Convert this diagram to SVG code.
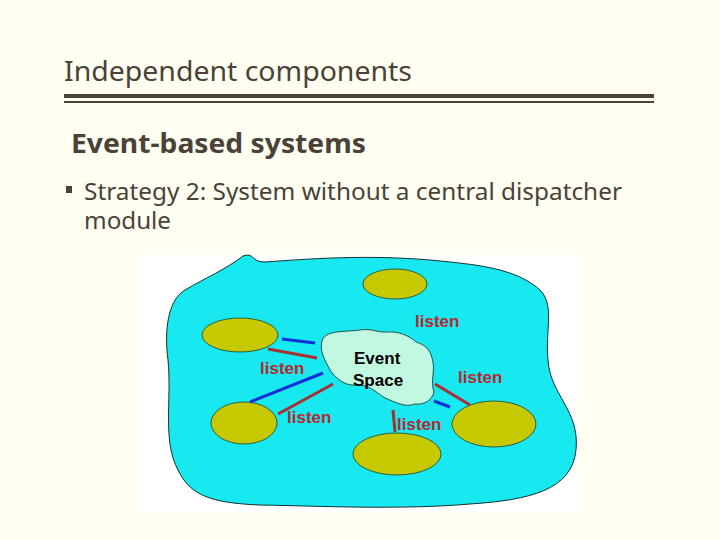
<svg xmlns="http://www.w3.org/2000/svg" width="720" height="540" viewBox="0 0 720 540">
<style>
.t{font-family:"Noto Sans","Open Sans",sans-serif;fill:#4a4238}
.l{font-family:"Liberation Sans",Arial,sans-serif;font-weight:bold;font-size:17px;fill:#b5282d}
.comp{fill:#c6c800;stroke:#2a6040;stroke-width:1}
.blue{stroke:#1030d8;stroke-width:3}
.red{stroke:#a83030;stroke-width:3}
</style>
<rect width="720" height="540" fill="#fffff2"/>
<text class="t" x="64" y="81" font-size="27" textLength="348" lengthAdjust="spacingAndGlyphs">Independent components</text>
<rect x="64" y="94" width="590" height="4" fill="#4a4238"/>
<rect x="64" y="101" width="590" height="2" fill="#4a4238"/>
<text class="t" x="71" y="153" font-size="27" font-weight="bold" textLength="295" lengthAdjust="spacingAndGlyphs">Event-based systems</text>
<rect x="66" y="186" width="6" height="7" fill="#4a4238"/>
<text class="t" x="84" y="200" font-size="23" textLength="538" lengthAdjust="spacingAndGlyphs">Strategy 2: System without a central dispatcher</text>
<text class="t" x="84" y="229" font-size="23" textLength="87" lengthAdjust="spacingAndGlyphs">module</text>
<rect x="140" y="255" width="438" height="257" fill="#ffffff"/>
<g id="background">
<path d="M243,256 C255,252 250,262 265,262 C320,258 380,254 450,262 C490,266 520,272 540,290 C555,305 545,330 548,360 C550,395 580,410 576,450 C572,490 530,500 470,504 C400,510 320,506 260,505 C210,503 190,495 178,470 C162,440 172,400 168,360 C164,330 168,300 185,290 C205,278 225,270 243,256 Z" fill="#18e8f0" stroke="#103030" stroke-width="1"/>
</g>
<g id="event-space">
<path d="M323,338 C330,330 345,332 360,330 C372,328 378,333 388,332 C398,331 410,336 416,342 C426,345 430,350 432,358 C436,370 430,380 434,392 C432,400 425,405 415,404 C405,408 395,402 385,398 C375,392 370,384 355,385 C345,386 335,378 330,370 C325,360 318,350 323,338 Z" fill="#c0f8e0" stroke="#205050" stroke-width="1"/>
<text x="354" y="364" font-family="Liberation Sans,Arial,sans-serif" font-weight="bold" font-size="17" fill="#000">Event</text>
<text x="353" y="386" font-family="Liberation Sans,Arial,sans-serif" font-weight="bold" font-size="17" fill="#000">Space</text>
</g>
<g id="c-top"><ellipse class="comp" cx="395" cy="284" rx="32" ry="15"/></g>
<g id="c-left-top"><ellipse class="comp" cx="240" cy="335" rx="38" ry="17"/></g>
<g id="c-left-bottom"><ellipse class="comp" cx="244" cy="423" rx="33" ry="21"/></g>
<g id="c-bottom"><ellipse class="comp" cx="397" cy="454" rx="44" ry="21"/></g>
<g id="c-right"><ellipse class="comp" cx="494" cy="424" rx="42" ry="23"/></g>
<g id="connectors">
<line class="blue" x1="282" y1="339" x2="315" y2="343"/>
<line class="red" x1="268" y1="349" x2="317" y2="358"/>
<line class="blue" x1="250" y1="402" x2="323" y2="373"/>
<line class="red" x1="278" y1="414" x2="333" y2="384"/>
<line class="red" x1="393" y1="410" x2="395" y2="432"/>
<line class="blue" x1="434" y1="401" x2="450" y2="407"/>
<line class="red" x1="435" y1="384" x2="470" y2="405"/>
</g>
<g id="labels">
<text class="l" x="415" y="327">listen</text>
<text class="l" x="260" y="374">listen</text>
<text class="l" x="287" y="423">listen</text>
<text class="l" x="397" y="430">listen</text>
<text class="l" x="458" y="383">listen</text>
</g>
</svg>
